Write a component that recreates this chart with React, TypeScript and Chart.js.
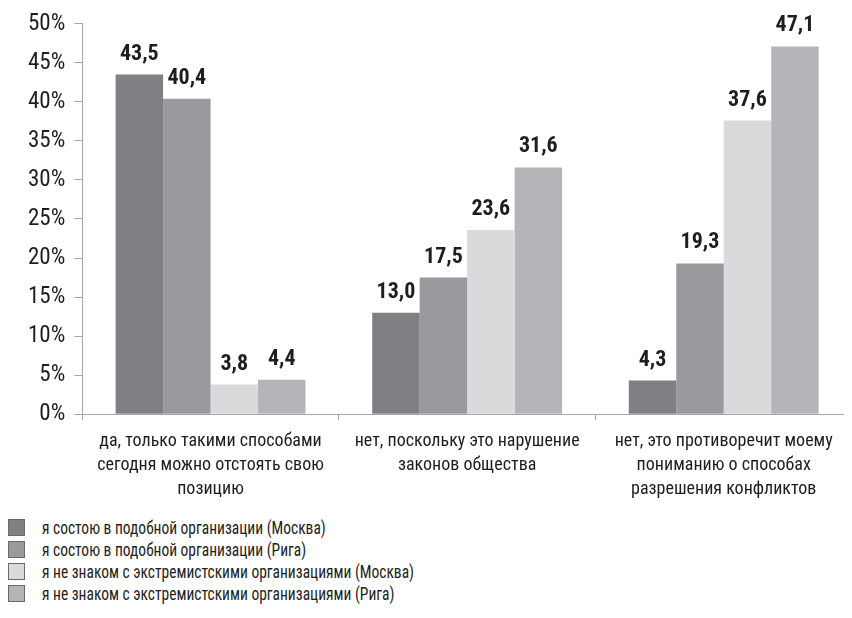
import React, { useEffect, useRef } from "react";
import { Chart, registerables } from "chart.js";

Chart.register(...registerables);

const categories: string[][] = [
  ["да, только такими способами", "сегодня можно отстоять свою", "позицию"],
  ["нет, поскольку это нарушение", "законов общества"],
  ["нет, это противоречит моему", "пониманию о способах", "разрешения конфликтов"],
];

const seriesNames = [
  "я состою в подобной организации (Москва)",
  "я состою в подобной организации (Рига)",
  "я не знаком с экстремистскими организациями (Москва)",
  "я не знаком с экстремистскими организациями (Рига)",
];

const moscowMember = [43.5, 13.0, 4.3];
const rigaMember = [40.4, 17.5, 19.3];
const moscowNonMember = [3.8, 23.6, 37.6];
const rigaNonMember = [4.4, 31.6, 47.1];

const yTicks = [0, 5, 10, 15, 20, 25, 30, 35, 40, 45, 50];

const seriesColors = ["#808084", "#9a9a9e", "#dadadc", "#b5b5b9"];

const FONT = '"Liberation Sans Narrow", "Roboto Condensed", "DejaVu Sans Condensed", "Liberation Sans", sans-serif';

const valueLabels = {
  id: "valueLabels",
  afterDatasetsDraw(chart: any) {
    const ctx = chart.ctx;
    ctx.save();
    ctx.font = `bold 22px ${FONT}`;
    ctx.fillStyle = "#1e1e1e";
    ctx.textAlign = "center";
    ctx.textBaseline = "alphabetic";
    chart.data.datasets.forEach((ds: any, i: number) => {
      const meta = chart.getDatasetMeta(i);
      meta.data.forEach((el: any, j: number) => {
        const v = ds.data[j] as number;
        ctx.fillText(v.toFixed(1).replace(".", ","), el.x, el.y - 15);
      });
    });
    ctx.restore();
  },
};

export default function App() {
  const ref = useRef<HTMLCanvasElement>(null);
  useEffect(() => {
    if (!ref.current) return;
    const data = [moscowMember, rigaMember, moscowNonMember, rigaNonMember];
    const chart = new Chart(ref.current, {
      type: "bar",
      data: {
        labels: categories,
        datasets: data.map((d, i) => ({
          label: seriesNames[i],
          data: d,
          backgroundColor: seriesColors[i],
          borderWidth: 0,
          barPercentage: 1,
          categoryPercentage: 0.74,
        })),
      },
      plugins: [valueLabels],
      options: {
        animation: false,
        responsive: false,
        layout: { padding: { top: 2, right: 0, left: 11, bottom: 0 } },
        plugins: {
          legend: { display: false },
          tooltip: { enabled: false },
        },
        scales: {
          x: {
            grid: {
              display: true,
              drawOnChartArea: false,
              drawTicks: true,
              tickLength: 6,
              color: "#a8a8a8",
              offset: true,
            },
            border: { color: "#a8a8a8", width: 1 },
            ticks: {
              color: "#1e1e1e",
              font: { family: FONT, size: 18, lineHeight: 1.33 },
              maxRotation: 0,
              autoSkip: false,
              padding: 9,
            },
          },
          y: {
            min: 0,
            max: 50,
            afterBuildTicks: (axis: any) => {
              axis.ticks = yTicks.map((v) => ({ value: v }));
            },
            grid: {
              display: true,
              drawOnChartArea: false,
              drawTicks: true,
              tickLength: 8,
              color: "#a8a8a8",
            },
            border: { color: "#a8a8a8", width: 1 },
            ticks: {
              color: "#1e1e1e",
              font: { family: FONT, size: 23 },
              padding: 9,
              callback: (v: any) => `${v}%`,
            },
          },
        },
      },
    });
    return () => chart.destroy();
  }, []);

  return (
    <div style={{ width: 844 }}>
      <canvas ref={ref} width={844} height={509} style={{ display: "block", marginTop: -7 }} />
      <div style={{ marginTop: 6, fontFamily: FONT, fontSize: 18, color: "#1e1e1e" }}>
        {seriesNames.map((n, i) => (
          <div key={i} style={{ display: "flex", alignItems: "center", height: 22 }}>
            <span
              style={{
                display: "inline-block",
                flex: "0 0 auto",
                width: 15,
                height: 15,
                background: seriesColors[i],
                border: "1px solid #6a6a6a",
                marginRight: 17,
              }}
            />
            <span
              style={{
                display: "inline-block",
                whiteSpace: "nowrap",
                transform: "scaleX(0.86)",
                transformOrigin: "left center",
              }}
            >
              {n}
            </span>
          </div>
        ))}
      </div>
    </div>
  );
}
